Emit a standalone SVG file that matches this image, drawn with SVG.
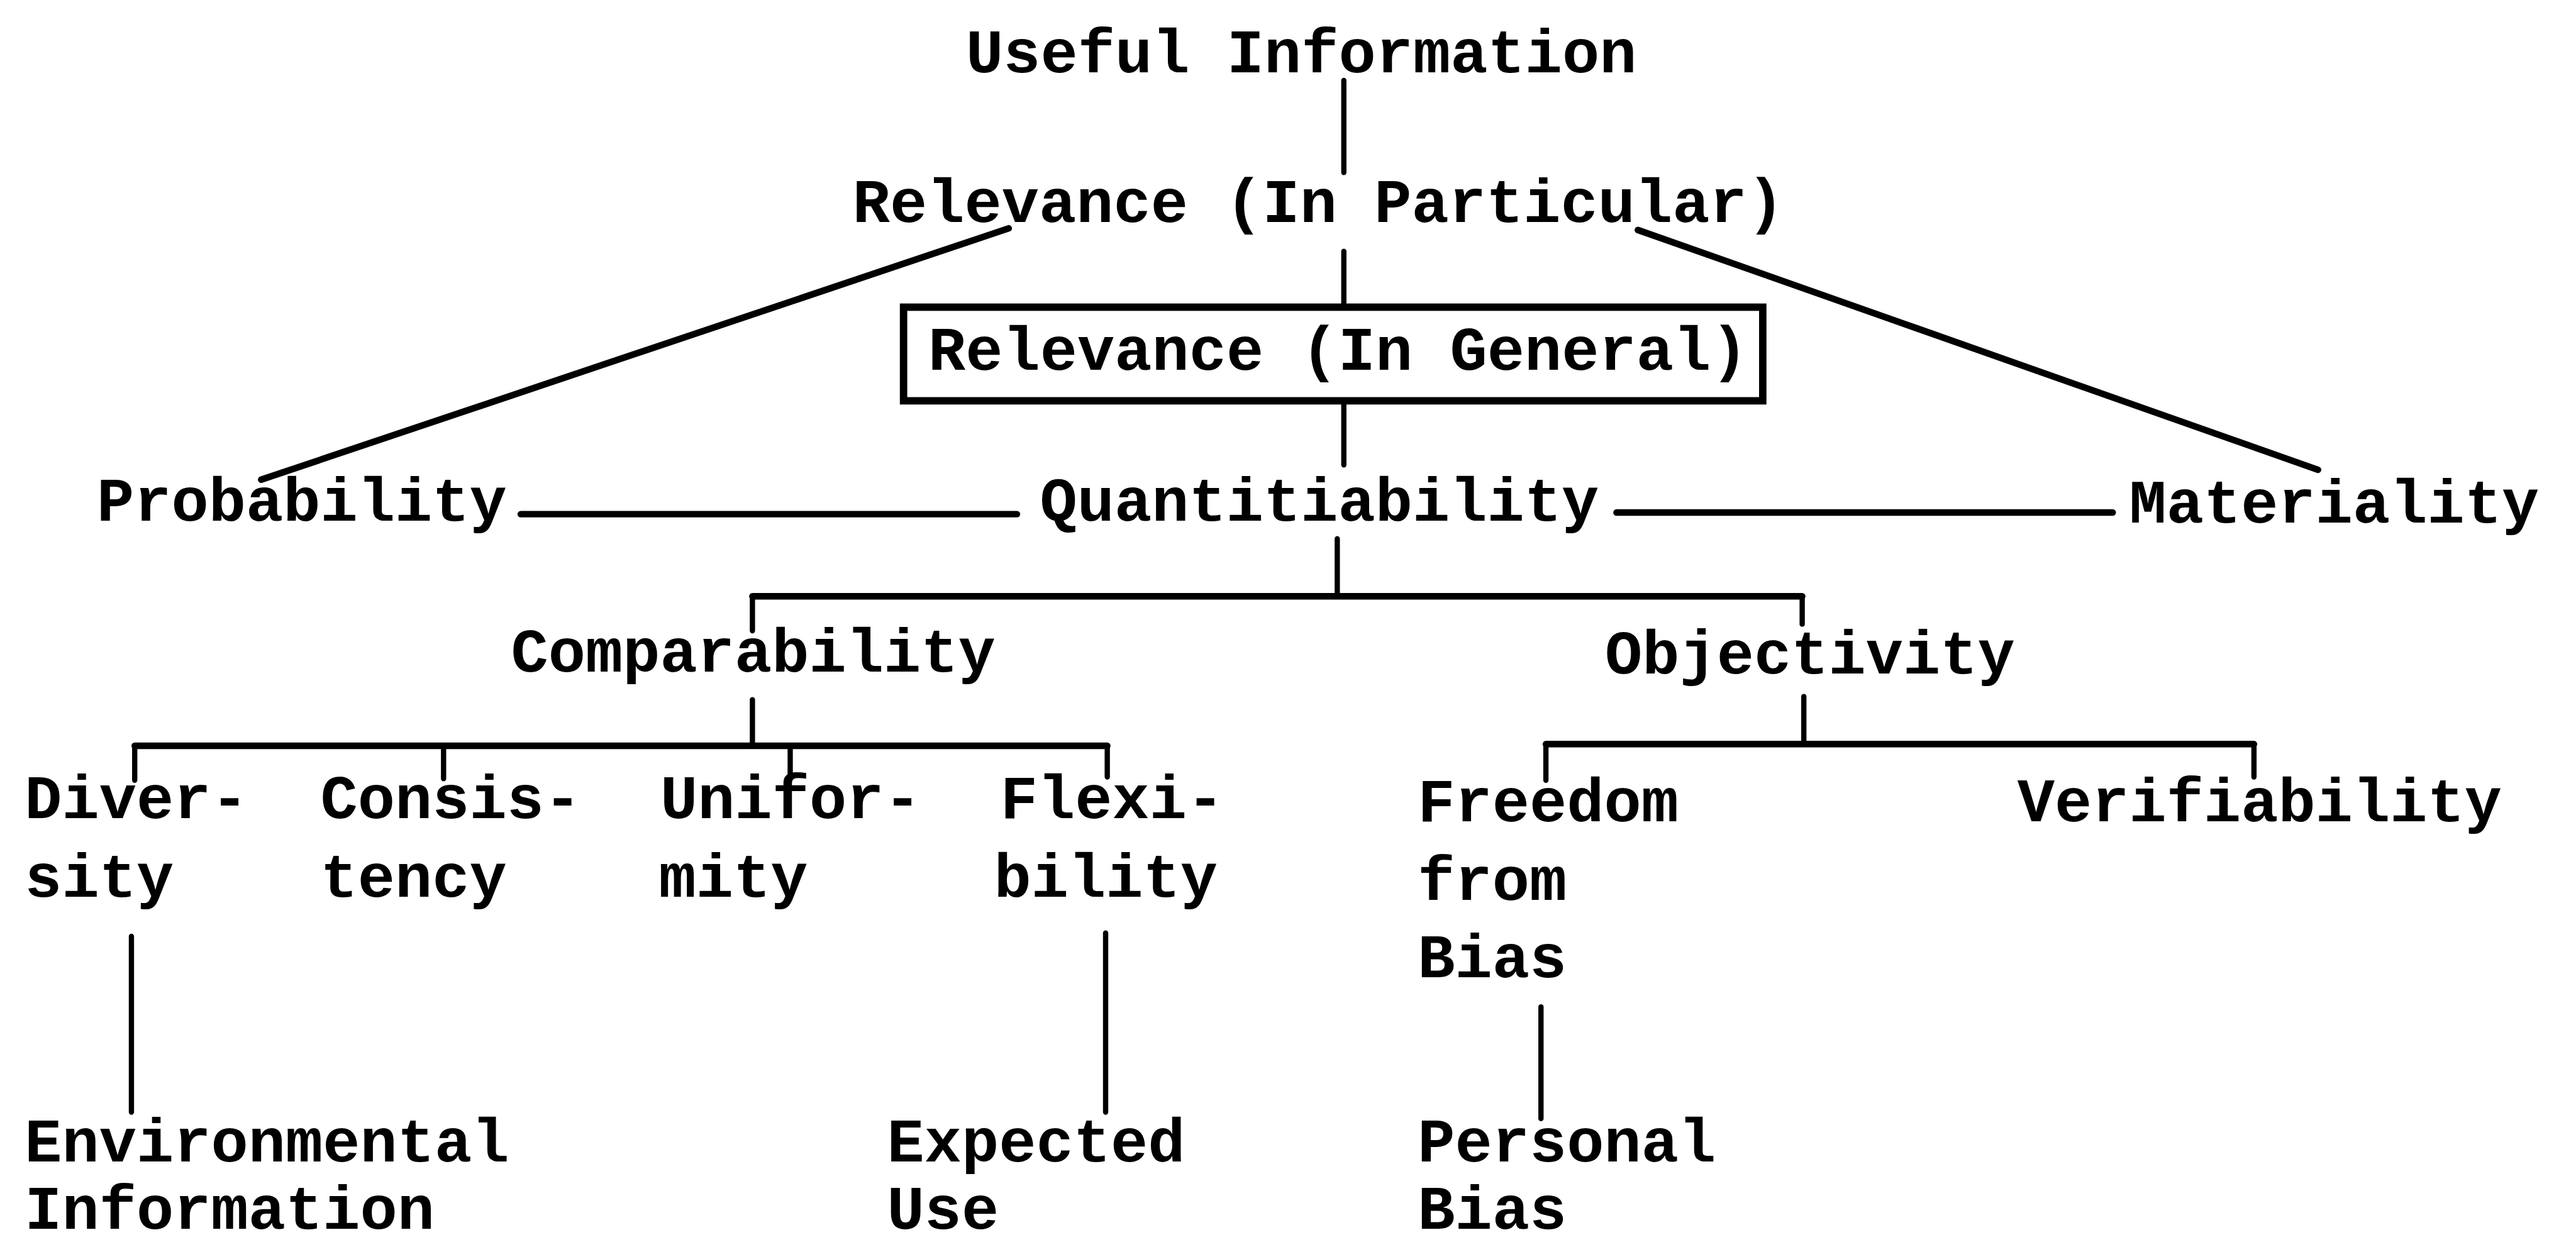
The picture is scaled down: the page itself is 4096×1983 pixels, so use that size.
<svg xmlns="http://www.w3.org/2000/svg" width="4096" height="1983" viewBox="0 0 4096 1983">
<style>
text{font-family:"Liberation Mono","Courier New",monospace;font-size:37.8px;font-weight:bold;fill:#000}
.c line{stroke:#000;stroke-width:3.2;stroke-linecap:round}
.c .h{stroke-width:4}
.box{fill:none;stroke:#000;stroke-width:4.5}
</style>
<rect width="4096" height="1983" fill="#fff"/>
<g transform="scale(2.6122)">
<g id="connectors" class="c">
<line x1="818" y1="49" x2="818" y2="105"/>
<line x1="818" y1="153" x2="818" y2="187"/>
<line x1="614" y1="139" x2="159" y2="292" class="h"/>
<line x1="997" y1="140" x2="1411" y2="286" class="h"/>
<line x1="818" y1="244" x2="818" y2="283"/>
<line x1="317" y1="313" x2="619" y2="313" class="h"/>
<line x1="984" y1="312" x2="1286" y2="312" class="h"/>
<line x1="814" y1="328" x2="814" y2="362"/>
<line x1="458" y1="363" x2="1097" y2="363" class="h"/>
<line x1="458" y1="363" x2="458" y2="384"/>
<line x1="1097" y1="363" x2="1097" y2="380"/>
<line x1="458" y1="426" x2="458" y2="454"/>
<line x1="82" y1="454" x2="674" y2="454" class="h"/>
<line x1="82" y1="454" x2="82" y2="475"/>
<line x1="270" y1="454" x2="270" y2="474"/>
<line x1="481" y1="454" x2="481" y2="471"/>
<line x1="674" y1="454" x2="674" y2="473"/>
<line x1="1098" y1="424" x2="1098" y2="453"/>
<line x1="941" y1="453" x2="1372" y2="453" class="h"/>
<line x1="941" y1="453" x2="941" y2="475"/>
<line x1="1372" y1="453" x2="1372" y2="473"/>
<line x1="80" y1="570" x2="80" y2="677"/>
<line x1="673" y1="568" x2="673" y2="677"/>
<line x1="938" y1="613" x2="938" y2="681"/>
</g>
<g id="useful-information"><text x="588" y="44">Useful Information</text></g>
<g id="relevance-particular"><text x="519" y="135">Relevance (In Particular)</text></g>
<g id="relevance-general"><rect class="box" x="550" y="187" width="523" height="57"/><text x="565" y="225">Relevance (In General)</text></g>
<g id="probability"><text x="59" y="317">Probability</text></g>
<g id="quantitiability"><text x="633" y="317">Quantitiability</text></g>
<g id="materiality"><text x="1296" y="318">Materiality</text></g>
<g id="comparability"><text x="311" y="409">Comparability</text></g>
<g id="objectivity"><text x="977" y="410">Objectivity</text></g>
<g id="diversity"><text x="15" y="498">Diver-</text><text x="15" y="546">sity</text></g>
<g id="consistency"><text x="195" y="498">Consis-</text><text x="195" y="546">tency</text></g>
<g id="uniformity"><text x="402" y="498">Unifor-</text><text x="401" y="546">mity</text></g>
<g id="flexibility"><text x="609" y="498">Flexi-</text><text x="605" y="546">bility</text></g>
<g id="freedom-from-bias"><text x="863" y="500">Freedom</text><text x="863" y="548">from</text><text x="863" y="595">Bias</text></g>
<g id="verifiability"><text x="1228" y="500">Verifiability</text></g>
<g id="environmental-information"><text x="15" y="707">Environmental</text><text x="15" y="748">Information</text></g>
<g id="expected-use"><text x="540" y="707">Expected</text><text x="540" y="748">Use</text></g>
<g id="personal-bias"><text x="863" y="707">Personal</text><text x="863" y="748">Bias</text></g>
</g>
</svg>
